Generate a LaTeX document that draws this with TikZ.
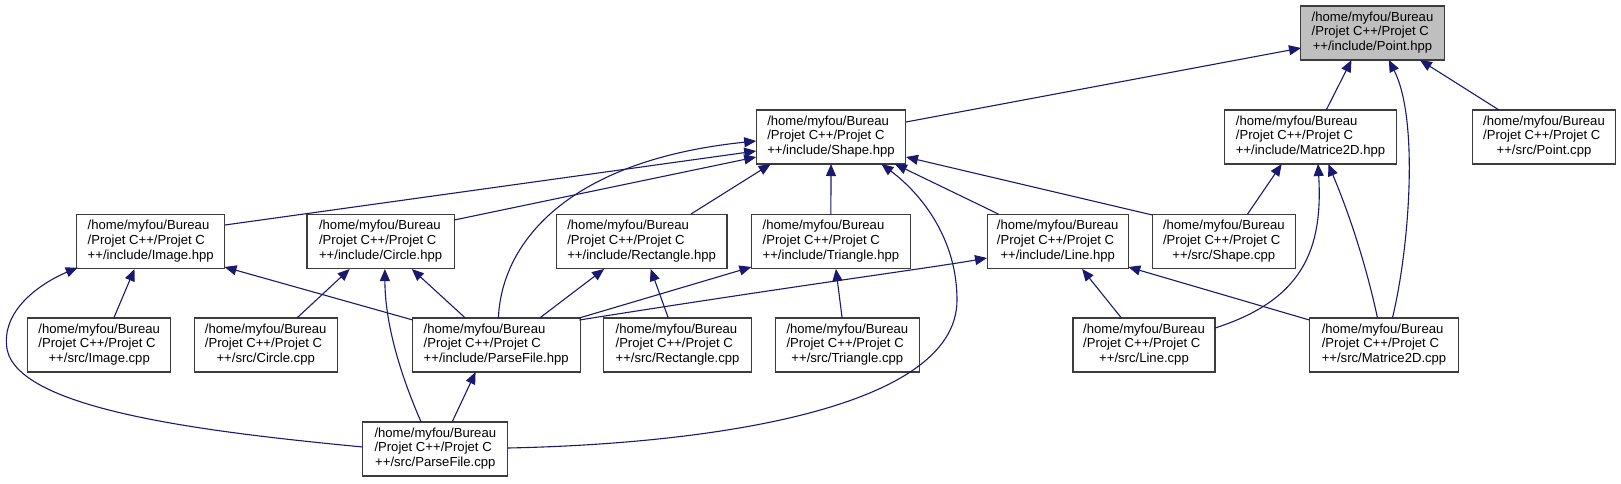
\documentclass[tikz,border=0pt]{standalone}
\usepackage{fontspec}
\setmainfont{Liberation Sans}
\usetikzlibrary{arrows.meta}
\definecolor{edgecol}{RGB}{25,25,112}
\definecolor{boxline}{RGB}{60,60,60}
\newcommand{\flabel}[1]{\begin{tabular}{@{}l@{}}/home/myfou/Bureau\\/Projet C++/Projet C\\\multicolumn{1}{@{}c@{}}{#1}\end{tabular}}
\tikzset{
  box/.style={draw=boxline, line width=1.1pt, minimum height=54pt, inner sep=0pt, fill=white,
    font=\fontsize{13.1}{14.7}\selectfont},
  dep/.style={draw=edgecol, line width=1.1pt, -{Triangle[length=12pt,width=10pt]}}
}
\begin{document}
\begin{tikzpicture}[x=1pt,y=-1pt]
\useasboundingbox (0,0) rectangle (1621,483);
% nodes
\node[box, minimum width=143.5pt, fill=black!25] (point) at (1372.5,33) {\flabel{++/include/Point.hpp}};
\node[box, minimum width=149.7pt] (shapeh) at (831,137) {\flabel{++/include/Shape.hpp}};
\node[box, minimum width=172pt] (mat2h) at (1310.5,137) {\flabel{++/include/Matrice2D.hpp}};
\node[box, minimum width=143.4pt] (pointcpp) at (1544,137) {\flabel{++/src/Point.cpp}};
\node[box, minimum width=148.3pt] (imageh) at (150.7,241.5) {\flabel{++/include/Image.hpp}};
\node[box, minimum width=147.2pt] (circleh) at (380.6,241.5) {\flabel{++/include/Circle.hpp}};
\node[box, minimum width=170.8pt] (recth) at (641.6,241.5) {\flabel{++/include/Rectangle.hpp}};
\node[box, minimum width=159pt] (trih) at (830.9,241.5) {\flabel{++/include/Triangle.hpp}};
\node[box, minimum width=141.3pt] (lineh) at (1057.7,241.5) {\flabel{++/include/Line.hpp}};
\node[box, minimum width=142.8pt] (shapecpp) at (1223.8,241.5) {\flabel{++/src/Shape.cpp}};
\node[box, minimum width=143pt] (imagecpp) at (99.2,345) {\flabel{++/src/Image.cpp}};
\node[box, minimum width=143pt] (circlecpp) at (265.7,345) {\flabel{++/src/Circle.cpp}};
\node[box, minimum width=167.7pt] (parseh) at (496.2,345) {\flabel{++/include/ParseFile.hpp}};
\node[box, minimum width=148pt] (rectcpp) at (677.5,345) {\flabel{++/src/Rectangle.cpp}};
\node[box, minimum width=143.5pt] (tricpp) at (847.3,345) {\flabel{++/src/Triangle.cpp}};
\node[box, minimum width=142pt] (linecpp) at (1144,345) {\flabel{++/src/Line.cpp}};
\node[box, minimum width=149.3pt] (mat2cpp) at (1384,345) {\flabel{++/src/Matrice2D.cpp}};
\node[box, minimum width=145pt] (parsecpp) at (435.3,449) {\flabel{++/src/ParseFile.cpp}};
% edges (child -> parent)
\draw[dep] ([shift={(75,-15)}]shapeh.center) -- ([shift={(-71.5,15)}]point.center);
\draw[dep] ([shift={(15.7,-27)}]mat2h.center) -- ([shift={(-21,27)}]point.center);
\draw[dep] ([shift={(8.4,-27)}]mat2cpp.center) .. controls (1409,250) and (1419.4,120) .. ([shift={(16.3,27)}]point.center);
\draw[dep] ([shift={(-45,-27)}]pointcpp.center) -- ([shift={(47.4,27)}]point.center);
\draw[dep] ([shift={(74.2,-16.5)}]imageh.center) -- ([shift={(-74.8,14)}]shapeh.center);
\draw[dep] ([shift={(73.6,-21.5)}]circleh.center) -- ([shift={(-74.8,20)}]shapeh.center);
\draw[dep] ([shift={(2.2,-27)}]parseh.center) .. controls (501.8,240) and (571,160) .. ([shift={(-74.8,4)}]shapeh.center);
\draw[dep] ([shift={(49.4,-27.5)}]recth.center) -- ([shift={(-60.3,27)}]shapeh.center);
\draw[dep] ([shift={(0,-27.5)}]trih.center) -- ([shift={(0,27)}]shapeh.center);
\draw[dep] ([shift={(72.4,-1)}]parsecpp.center) .. controls (705.5,444) and (957,410) .. (957,300) .. controls (957,240) and (922.8,195) .. ([shift={(50.4,27)}]shapeh.center);
\draw[dep] ([shift={(-59.4,-27.5)}]lineh.center) -- ([shift={(63.9,27)}]shapeh.center);
\draw[dep] ([shift={(-71.4,-26.5)}]shapecpp.center) -- ([shift={(75,20)}]shapeh.center);
\draw[dep] ([shift={(23.8,-27.5)}]shapecpp.center) -- ([shift={(-28.8,27)}]mat2h.center);
\draw[dep] ([shift={(71,-17)}]linecpp.center) .. controls (1302.4,300) and (1323.1,250) .. ([shift={(7.5,27)}]mat2h.center);
\draw[dep] ([shift={(-6.5,-27)}]mat2cpp.center) .. controls (1367.2,270) and (1351.7,220) .. ([shift={(17.8,27)}]mat2h.center);
\draw[dep] ([shift={(14.6,-27)}]imagecpp.center) -- ([shift={(-16.2,27.5)}]imageh.center);
\draw[dep] ([shift={(-83.3,-25)}]parseh.center) -- ([shift={(73.8,25.5)}]imageh.center);
\draw[dep] ([shift={(-72.5,-2)}]parsecpp.center) .. controls (206.9,432) and (20.7,410) .. (7.2,350) .. controls (0,310) and (41.4,283) .. ([shift={(-73,26)}]imageh.center);
\draw[dep] ([shift={(31.2,-27)}]circlecpp.center) -- ([shift={(-30.9,27.5)}]circleh.center);
\draw[dep] ([shift={(-30.9,-27)}]parseh.center) -- ([shift={(31.2,27.5)}]circleh.center);
\draw[dep] ([shift={(-14.2,-27)}]parsecpp.center) .. controls (398.3,370) and (384.9,320) .. ([shift={(4.3,27.5)}]circleh.center);
\draw[dep] ([shift={(-9.2,-27)}]rectcpp.center) -- ([shift={(9.1,27.5)}]recth.center);
\draw[dep] ([shift={(43.5,-27)}]parseh.center) -- ([shift={(-37.5,27.5)}]recth.center);
\draw[dep] ([shift={(83,-27)}]parseh.center) -- ([shift={(-79.5,25.5)}]trih.center);
\draw[dep] ([shift={(83.2,-25)}]parseh.center) .. controls (800,285) and (930,268) .. ([shift={(-70.7,16.5)}]lineh.center);
\draw[dep] ([shift={(-5.2,-27)}]tricpp.center) -- ([shift={(5,27.5)}]trih.center);
\draw[dep] ([shift={(-22.6,-27)}]linecpp.center) -- ([shift={(24.4,27.5)}]lineh.center);
\draw[dep] ([shift={(-74.6,-25)}]mat2cpp.center) -- ([shift={(70.6,25.5)}]lineh.center);
\draw[dep] ([shift={(16.8,-27)}]parsecpp.center) -- ([shift={(-20.6,27)}]parseh.center);
\end{tikzpicture}
\end{document}
